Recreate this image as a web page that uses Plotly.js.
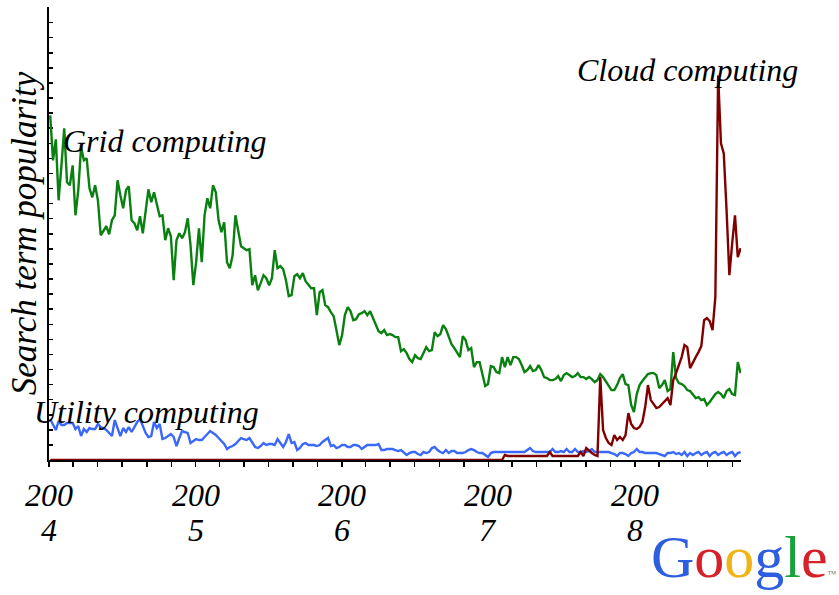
<!DOCTYPE html>
<html><head><meta charset="utf-8">
<script src="https://cdn.plot.ly/plotly-3.0.1.min.js"></script>
<style>html,body{margin:0;padding:0;background:#fff;} #chart{width:839px;height:595px;}</style>
</head><body><div id="chart"></div>
<script>
// Weekly search-term popularity (relative units), first week 2004-01-04
const firstWeek = '2004-01-04';

const gridComputing = [
345,300,321,260,295,332,278,275,295,245,
270,313,300,302,272,263,275,260,225,230,
234,226,240,245,280,265,252,270,274,240,
237,230,244,227,248,271,258,268,256,244,
245,220,232,224,180,220,227,222,228,242,
215,175,198,232,198,245,262,252,275,268,
240,228,238,198,192,205,245,228,214,212,
210,211,175,185,170,177,185,182,175,182,
210,192,194,191,180,164,165,184,186,182,
187,179,176,172,172,145,168,170,155,153,
148,144,130,115,125,145,153,149,140,141,
146,147,149,145,149,142,137,129,127,130,
125,126,125,123,123,109,111,107,101,98,
105,102,101,108,113,109,110,128,124,126,
135,131,123,116,112,108,103,124,120,110,
112,93,98,98,87,74,76,94,93,88,
87,103,93,103,95,103,103,101,95,88,
90,94,89,90,95,90,83,82,80,80,
81,84,79,85,87,85,83,84,87,83,
83,81,83,81,78,80,86,83,79,75,
70,70,75,82,86,76,75,55,48,66,
75,79,83,86,87,87,85,72,75,80,
69,71,108,82,77,76,74,70,69,66,
62,63,60,61,55,58,62,66,68,66,
62,69,71,66,65,98,87
];

const utilityComputing = [
41,35,30,39,35,35,37,37,37,31,
34,24,31,28,32,31,31,36,33,32,
30,27,24,40,31,24,32,28,33,28,
33,38,41,33,27,23,24,38,32,36,
21,22,24,26,23,14,22,29,28,27,
17,19,21,20,20,23,26,29,27,25,
22,19,16,11,13,14,16,19,22,21,
20,22,18,13,12,14,17,15,16,16,
15,21,17,13,18,26,17,18,10,12,
16,17,15,15,15,14,15,18,20,22,
14,15,12,13,15,15,13,13,15,15,
14,11,13,15,15,15,15,16,10,10,
11,11,11,10,9,10,7,5,7,8,
8,6,5,8,7,8,12,13,10,8,
7,10,7,9,9,7,7,7,8,10,
11,10,8,7,7,5,3,7,8,8,
8,8,8,8,8,8,8,8,8,8,
10,12,9,8,8,8,8,8,8,11,
8,8,9,8,11,8,8,11,8,8,
9,8,9,11,8,8,8,8,8,8,
7,6,4,7,7,6,4,7,8,11,
8,8,7,7,7,7,7,6,5,4,
7,7,8,6,7,5,8,4,7,5,
7,8,5,7,8,4,7,8,5,7,
8,5,7,8,4,7,8
];

const cloudComputing = [
0,0,0,0,0,0,0,0,0,0,0,0,0,0,0,0,0,0,0,0,
0,0,0,0,0,0,0,0,0,0,0,0,0,0,0,0,0,0,0,0,
0,0,0,0,0,0,0,0,0,0,0,0,0,0,0,0,0,0,0,0,
0,0,0,0,0,0,0,0,0,0,0,0,0,0,0,0,0,0,0,0,
0,0,0,0,0,0,0,0,0,0,0,0,0,0,0,0,0,0,0,0,
0,0,0,0,0,0,0,0,0,0,0,0,0,0,0,0,0,0,0,0,
0,0,0,0,0,0,0,0,0,0,0,0,0,0,0,0,0,0,0,0,
0,0,0,0,0,0,0,0,0,0,0,0,0,0,0,0,0,0,0,0,
0,0,
5,4,4,4,4,4,4,4,4,4,4,4,4,4,4,4,
8,4,4,4,4,4,4,4,4,4,4,
8,4,12,9,7,5,4,83,30,22,
17,15,25,20,23,20,25,47,36,32,
31,33,38,53,75,60,56,52,53,56,
60,62,55,80,87,95,103,115,113,92,
98,103,108,114,140,142,139,130,163,385,
317,307,250,185,217,245,203,212
];

const seriesNames = ['Grid computing', 'Utility computing', 'Cloud computing'];
const yearTickDates = ['2004-01-01', '2005-01-01', '2006-01-01', '2007-01-01', '2008-01-01'];
const yearTickTop = ['200', '200', '200', '200', '200'];
const yearTickBottom = ['4', '5', '6', '7', '8'];
const yAxisTitle = 'Search term popularity';

function weekDates(n) {
  const out = [];
  const d0 = Date.parse(firstWeek + 'T00:00:00Z');
  for (let i = 0; i < n; i++) {
    out.push(new Date(d0 + i * 7 * 86400000).toISOString().slice(0, 10));
  }
  return out;
}

const serif = 'Liberation Serif, Times New Roman, serif';
const colors = ['#0a8010', '#3a68fa', '#800000'];
const values = [gridComputing, utilityComputing, cloudComputing];

const traces = values.map((v, k) => ({
  type: 'scatter', mode: 'lines', name: seriesNames[k],
  x: weekDates(v.length), y: v,
  line: {color: colors[k], width: 2.4}, hoverinfo: 'x+y+name'
}));

const annotations = [];
// series labels
const labelPos = [
  {x: 0.018, y: 0.705},
  {x: -0.025, y: 0.107},
  {x: 0.760, y: 0.860}
];
seriesNames.forEach((s, k) => {
  annotations.push({
    text: s, xref: 'paper', yref: 'paper', x: labelPos[k].x, y: labelPos[k].y,
    xanchor: 'left', yanchor: 'middle', showarrow: false,
    font: {family: serif, size: 32, style: 'italic', color: '#000'}
  });
});
// two-line year tick labels
yearTickDates.forEach((d, k) => {
  annotations.push({
    text: yearTickTop[k], xref: 'x', yref: 'paper', x: d, y: 0,
    xanchor: 'center', yanchor: 'middle', yshift: -35, showarrow: false,
    font: {family: serif, size: 32, style: 'italic', color: '#000'}
  });
  annotations.push({
    text: yearTickBottom[k], xref: 'x', yref: 'paper', x: d, y: 0,
    xanchor: 'center', yanchor: 'middle', yshift: -70, showarrow: false,
    font: {family: serif, size: 32, style: 'italic', color: '#000'}
  });
});
// Google logo
annotations.push({
  text: '<span style="color:#2d5ee0">G</span><span style="color:#d6202a">o</span><span style="color:#f0b418">o</span><span style="color:#2d5ee0">g</span><span style="color:#17a33a">l</span><span style="color:#d6202a">e</span><span style="color:#777;font-size:9px">™</span>',
  xref: 'paper', yref: 'paper', x: 1.0, y: 0, xanchor: 'center', yanchor: 'middle',
  yshift: -97, xshift: 3, showarrow: false,
  font: {family: serif, size: 60, color: '#2d5ee0'}
});

const layout = {
  width: 839, height: 595,
  margin: {l: 49, r: 98, t: 7, b: 135, pad: 0},
  paper_bgcolor: '#fff', plot_bgcolor: '#fff',
  showlegend: false,
  xaxis: {
    type: 'date', range: ['2004-01-01', '2008-09-22'],
    tick0: '2004-01-01', dtick: 'M2', ticks: 'outside', ticklen: 5, tickwidth: 1.5, tickcolor: '#000',
    showline: true, linecolor: '#000', linewidth: 2, showgrid: false, zeroline: false,
    showticklabels: false, layer: 'below traces', fixedrange: true
  },
  yaxis: {
    range: [0, 453.5], tick0: 0, dtick: 15.1, ticks: 'inside', ticklen: 4, tickwidth: 1.5, tickcolor: '#000',
    showline: true, linecolor: '#000', linewidth: 2, showgrid: false, zeroline: false,
    showticklabels: false, layer: 'below traces', fixedrange: true,
    title: {text: yAxisTitle, standoff: 0, font: {family: serif, size: 35, style: 'italic', color: '#000'}}
  },
  annotations: annotations
};

Plotly.newPlot('chart', traces, layout, {displayModeBar: false, staticPlot: true});
</script>
</body></html>
